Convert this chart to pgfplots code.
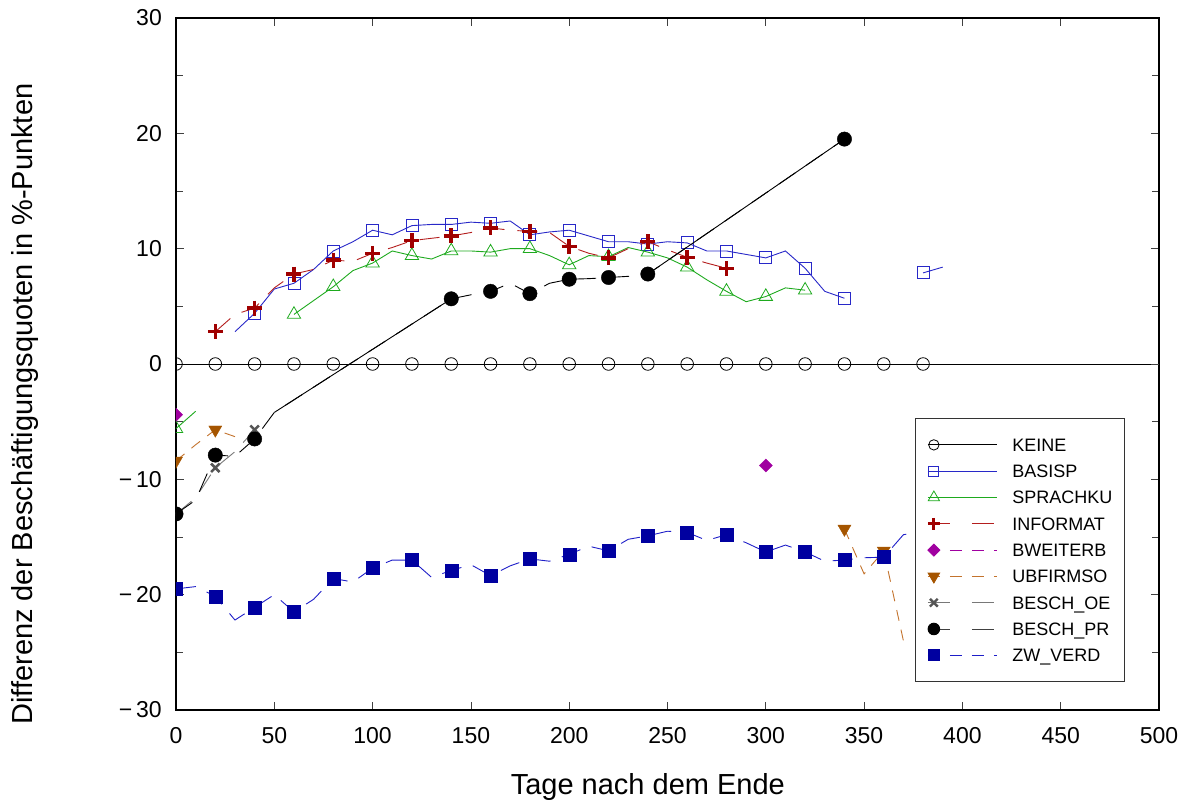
\documentclass[border=0pt]{standalone}
\usepackage{fontspec}
\setmainfont{Liberation Sans}
\usepackage{pgfplots}
\usepackage{pgfplotstable}
\pgfplotsset{compat=1.18}

\definecolor{cBasis}{RGB}{40,40,200}
\definecolor{cSprach}{RGB}{30,170,30}
\definecolor{cInfo}{RGB}{160,0,0}
\definecolor{cInfoL}{RGB}{180,30,30}
\definecolor{cBweit}{RGB}{160,0,160}
\definecolor{cUbf}{RGB}{165,85,0}
\definecolor{cUbfL}{RGB}{195,115,45}
\definecolor{cOE}{RGB}{85,85,85}
\definecolor{cOEL}{RGB}{120,120,120}
\definecolor{cZw}{RGB}{0,0,160}
\definecolor{cZwL}{RGB}{30,30,200}

\pgfplotstableread{
x y
0 0
10 0
20 0
30 0
40 0
50 0
60 0
70 0
80 0
90 0
100 0
110 0
120 0
130 0
140 0
150 0
160 0
170 0
180 0
190 0
200 0
210 0
220 0
230 0
240 0
250 0
260 0
270 0
280 0
290 0
300 0
310 0
320 0
330 0
340 0
350 0
360 0
370 0
380 0
390 0
}\tKeine

\pgfplotstableread{
x y
30 2.8
40 4.4
50 6.5
60 7.0
70 8.2
80 9.8
90 10.6
100 11.6
110 11.2
120 12.0
130 12.1
140 12.1
150 12.3
160 12.2
170 12.4
180 11.2
190 11.45
200 11.6
210 11.1
220 10.6
230 10.6
240 10.4
250 10.6
260 10.5
270 9.8
280 9.8
290 9.5
300 9.2
310 9.8
320 8.3
330 6.3
340 5.7
350 nan
380 7.9
390 8.4
}\tBasis

\pgfplotstableread{
x y
0 -5.6
10 -4.1
20 nan
60 4.3
70 5.5
80 6.7
90 8.1
100 8.75
110 9.8
120 9.4
130 9.1
140 9.8
150 9.8
160 9.7
170 10.0
180 10.0
190 9.4
200 8.6
210 9.4
220 9.3
230 10.1
240 9.7
250 9.2
260 8.4
270 7.3
280 6.3
290 5.4
300 5.85
310 6.6
320 6.4
}\tSprach

\pgfplotstableread{
x y
20 2.8
30 4.3
40 4.85
50 6.6
60 7.8
70 8.2
80 9.0
90 8.9
100 9.6
110 10.1
120 10.7
130 10.9
140 11.1
150 11.4
160 11.8
170 11.6
180 11.5
190 11.4
200 10.2
210 9.6
220 9.2
230 10.0
240 10.6
250 9.9
260 9.25
270 8.75
280 8.3
}\tInfo

\pgfplotstableread{
x y
0 -4.4
300 -8.8
}\tBweit

\pgfplotstableread{
x y
0 -8.4
10 -7.0
20 -5.7
30 -6.3
40 nan
340 -14.3
350 -18.2
360 -16.2
370 -24.0
}\tUbf

\pgfplotstableread{
x y
0 -13.0
10 -11.6
20 -9.0
30 -7.6
40 -5.7
}\tOE

\pgfplotstableread{
x y
0 -13.0
10 -11.8
20 -7.9
30 -8.0
40 -6.5
50 -4.2
140 5.65
150 6.0
160 6.3
170 7.0
180 6.1
190 7.0
200 7.35
210 7.4
220 7.5
230 7.6
240 7.8
340 19.5
}\tPR

\pgfplotstableread{
x y
0 -19.5
10 -19.3
20 -20.15
30 -22.2
40 -21.1
50 -20.0
60 -21.5
70 -20.4
80 -18.6
90 -18.9
100 -17.7
110 -17.0
120 -17.0
130 -18.5
140 -17.9
150 -17.4
160 -18.35
170 -17.5
180 -16.9
190 -17.1
200 -16.5
210 -15.8
220 -16.2
230 -15.2
240 -14.9
250 -14.5
260 -14.6
270 -15.3
280 -14.8
290 -15.5
300 -16.3
310 -15.7
320 -16.3
330 -17.1
340 -17.0
350 -16.8
360 -16.75
370 -14.8
380 -14.5
}\tZw

\pgfplotsset{
  mk/.style={only marks, forget plot, filter discard warning=false},
  ln/.style={no marks, forget plot, line width=0.9pt, unbounded coords=jump},
}

\begin{document}
\begin{tikzpicture}
\useasboundingbox (0,0) rectangle (1187pt,803pt);
\begin{axis}[
  at={(176pt,93pt)}, anchor=south west,
  scale only axis, width=983pt, height=692pt,
  xmin=0, xmax=500, ymin=-30, ymax=30,
  xtick={0,50,...,500},
  xticklabels={0,50,100,150,200,250,300,350,400,450,500},
  ytick={-30,-20,...,30},
  yticklabels={{−\,30},{−\,20},{−\,10},0,10,20,30},
  minor ytick={-25,-15,...,25},
  tick align=inside, tick pos=both,
  major tick length=8pt, minor tick length=7pt,
  tick style={black!75, line width=0.7pt},
  axis line style={line width=1.6pt},
  ticklabel style={font=\fontsize{23}{23}\selectfont},
  xticklabel style={inner sep=0pt, anchor=north, yshift=-17pt},
  yticklabel style={inner sep=0pt, anchor=east, xshift=-14pt},
  xlabel={Tage nach dem Ende},
  ylabel={Differenz der Beschäftigungsquoten in \%-Punkten},
  label style={font=\fontsize{29}{29}\selectfont},
  xlabel style={at={(axis description cs:0.480,-0.1228)}, anchor=base},
  ylabel style={at={(axis description cs:-0.1531,0.442)}, anchor=center},
  clip marker paths=true,
  extra y ticks={0}, extra y tick labels={},
  extra y tick style={grid=major, major grid style={black, line width=0.8pt}},
  legend image code/.code={%
    \draw[#1, mark=none] (-6pt,0pt) -- (63pt,0pt);
    \draw[#1] plot coordinates {(0pt,0pt)};
  },
  legend cell align=left,
  legend style={at={(0.7518,0.422)}, anchor=north west,
    draw=black!80, line width=0.8pt, fill=white,
    inner xsep=12pt, inner ysep=18.5pt,
    row sep=10.3pt, column sep=15pt,
    font=\fontsize{18}{18}\selectfont,
    nodes={inner sep=0pt, text height=13pt, text depth=0pt, minimum height=16pt, anchor=west}},
  legend entries={KEINE,BASISP,SPRACHKU,INFORMAT,BWEITERB,UBFIRMSO,BESCH\_OE,BESCH\_PR,ZW\_VERD},
]
% KEINE
\addplot[ln, black] table[x=x,y=y] {\tKeine};
\addplot[mk, mark=o, mark size=6.3pt, mark options={black, line width=0.8pt}]
  table[x=x, y expr={mod(\thisrow{x},20)==0 ? \thisrow{y} : nan}] {\tKeine};
% BASISP
\addplot[ln, cBasis] table[x=x,y=y] {\tBasis};
\addplot[mk, mark=square, mark size=6pt, mark options={cBasis, line width=0.8pt}]
  table[x=x, y expr={mod(\thisrow{x},20)==0 ? \thisrow{y} : nan}] {\tBasis};
% SPRACHKU
\addplot[ln, cSprach] table[x=x,y=y] {\tSprach};
\addplot[mk, mark=triangle, mark size=7.7pt, mark options={cSprach, line width=0.8pt}]
  table[x=x, y expr={mod(\thisrow{x},20)==0 ? \thisrow{y} : nan}] {\tSprach};
% INFORMAT
\addplot[ln, cInfoL, dash pattern=on 20pt off 13pt] table[x=x,y=y] {\tInfo};
\addplot[mk, mark=+, mark size=7.5pt, mark options={cInfo, line width=3.5pt}]
  table[x=x, y expr={mod(\thisrow{x},20)==0 ? \thisrow{y} : nan}] {\tInfo};
% BWEITERB
\addplot[mk, mark=square*, mark size=4.6pt, mark options={rotate=45, fill=cBweit, draw=cBweit}]
  table[x=x,y=y] {\tBweit};
% UBFIRMSO
\addplot[ln, cUbfL, dash pattern=on 11pt off 9pt] table[x=x,y=y] {\tUbf};
\addplot[mk, mark=triangle*, mark size=7.5pt, mark options={rotate=180, fill=cUbf, draw=cUbf}]
  table[x=x, y expr={mod(\thisrow{x},20)==0 ? \thisrow{y} : nan}] {\tUbf};
% BESCH_OE
\addplot[ln, cOEL, dash pattern=on 20pt off 13pt] table[x=x,y=y] {\tOE};
\addplot[mk, mark=x, mark size=6pt, mark options={cOE, line width=2.6pt}]
  table[x=x, y expr={mod(\thisrow{x},20)==0 ? \thisrow{y} : nan}] {\tOE};
% BESCH_PR
\addplot[ln, black, dash pattern=on 20pt off 13pt] table[x=x,y=y] {\tPR};
\addplot[ln, black, restrict x to domain=50:140] table[x=x,y=y] {\tPR};
\addplot[ln, black, restrict x to domain=240:340] table[x=x,y=y] {\tPR};
\addplot[mk, mark=*, mark size=7.2pt, mark options={fill=black, draw=black}]
  table[x=x, y expr={mod(\thisrow{x},20)==0 ? \thisrow{y} : nan}] {\tPR};
% ZW_VERD
\addplot[ln, cZwL, dash pattern=on 20pt off 12pt] table[x=x,y=y] {\tZw};
\addplot[mk, mark=square*, mark size=6.5pt, mark options={fill=cZw, draw=cZw}]
  table[x=x, y expr={mod(\thisrow{x},20)==0 ? \thisrow{y} : nan}] {\tZw};
% legend images
\addlegendimage{black, line width=0.9pt, mark=o, mark size=5.2pt, mark options={solid, line width=0.8pt}}
\addlegendimage{cBasis, line width=0.9pt, mark=square, mark size=5pt, mark options={solid, line width=0.8pt}}
\addlegendimage{cSprach, line width=0.9pt, mark=triangle, mark size=6.5pt, mark options={solid, line width=0.8pt}}
\addlegendimage{cInfoL, line width=0.9pt, dash pattern=on 22pt off 22pt, mark=+, mark size=6pt, mark options={solid, draw=cInfo, line width=3pt}}
\addlegendimage{cBweit, line width=0.9pt, dash pattern=on 12pt off 10pt, mark=square*, mark size=4.2pt, mark options={solid, rotate=45, fill=cBweit, draw=cBweit}}
\addlegendimage{cUbfL, line width=0.9pt, dash pattern=on 12pt off 10pt, mark=triangle*, mark size=6.6pt, mark options={solid, rotate=180, fill=cUbf, draw=cUbf}}
\addlegendimage{cOEL, line width=0.9pt, dash pattern=on 22pt off 22pt, mark=x, mark size=5.5pt, mark options={solid, draw=cOE, line width=2.4pt}}
\addlegendimage{black!75, line width=0.9pt, dash pattern=on 22pt off 22pt, mark=*, mark size=5.8pt, mark options={solid, fill=black, draw=black}}
\addlegendimage{cZwL, line width=0.9pt, dash pattern=on 12pt off 10pt, mark=square*, mark size=5.6pt, mark options={solid, fill=cZw, draw=cZw}}
\end{axis}
\end{tikzpicture}
\end{document}
